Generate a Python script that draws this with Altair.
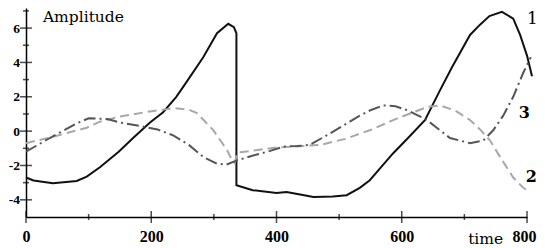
import altair as alt
import pandas as pd

# Series 1 (solid black)
s1_x = [0, 12, 43, 81, 97, 118, 148, 171, 198, 219, 240, 257, 283, 305, 323, 332, 336, 336, 362, 400, 416, 440, 459, 490, 512, 533, 549, 567, 586, 610, 637, 660, 680, 709, 725, 740, 760, 778, 789, 800, 808]
s1_y = [-2.7, -2.87, -3.04, -2.9, -2.65, -2.1, -1.2, -0.4, 0.5, 1.1, 2.0, 2.9, 4.3, 5.7, 6.25, 6.05, 5.7, -3.15, -3.44, -3.6, -3.54, -3.7, -3.83, -3.8, -3.73, -3.3, -2.86, -2.1, -1.3, -0.4, 0.64, 2.3, 3.7, 5.6, 6.2, 6.7, 6.95, 6.55, 5.6, 4.4, 3.2]

# Series 2 (light grey dashed)
s2_x = [0, 43, 97, 118, 150, 198, 238, 260, 273, 299, 321, 329, 333, 338, 370, 400, 430, 470, 510, 533, 549, 590, 640, 661, 685, 709, 725, 741, 757, 778, 794, 805]
s2_y = [-0.7, -0.33, 0.2, 0.55, 0.85, 1.15, 1.34, 1.25, 1.05, 0.06, -1.1, -1.7, -1.85, -1.25, -1.1, -0.95, -0.9, -0.8, -0.45, -0.15, 0.05, 0.7, 1.4, 1.5, 1.2, 0.65, 0.1, -0.55, -1.5, -2.7, -3.3, -3.55]

# Series 3 (dark grey dash-dot)
s3_x = [0, 38, 81, 100, 130, 150, 182, 210, 235, 260, 283, 305, 320, 337, 360, 390, 411, 433, 453, 480, 517, 533, 549, 570, 590, 610, 640, 677, 709, 730, 746, 762, 778, 794, 806]
s3_y = [-1.2, -0.4, 0.45, 0.75, 0.7, 0.5, 0.3, 0.1, -0.25, -0.8, -1.5, -1.9, -1.95, -1.7, -1.45, -1.15, -0.9, -0.87, -0.8, -0.25, 0.55, 0.9, 1.2, 1.5, 1.45, 1.2, 0.65, -0.4, -0.7, -0.55, 0.05, 0.9, 2.0, 3.4, 4.3]

x_major = [0, 200, 400, 600, 800]
x_minor = [100, 300, 500, 700]
y_major = [-4, -2, 0, 2, 4, 6]
y_minor = [-3, -1, 1, 3, 5, 7]

# annotation texts (positions in data units)
series_labels = ["1", "3", "2"]
series_label_x = [800, 787, 798]
series_label_y = [6.25, 0.76, -2.97]
series_label_weight = ["normal", "bold", "bold"]

FONT = "DejaVu Serif"
TICKFONT = "Liberation Serif"
LABEL_EXPR = "datum.value < 0 ? '-' + abs(datum.value) : '' + datum.value"

xs = alt.Scale(domain=[0, 800], nice=False, zero=False)
ys = alt.Scale(domain=[-5, 7.17], nice=False, zero=False)

def line_df(xv, yv):
    return pd.DataFrame({"x": xv, "y": yv, "i": list(range(len(xv)))})

x_axis = alt.Axis(values=x_major, title=None, grid=False, labelFont=TICKFONT,
                  labelFontWeight="bold", labelFontSize=16, labelColor="black",
                  tickSize=6, tickOpacity=0, labelPadding=5, labelExpr=LABEL_EXPR,
                  labelOffset={"condition": {"test": "datum.value == 800", "value": -3}, "value": 0},
                  domainColor="black", domainWidth=1.5, labelFlush=False)
y_axis = alt.Axis(values=y_major, title=None, grid=False, labelFont=TICKFONT,
                  labelFontWeight="bold", labelFontSize=13.5, labelColor="black",
                  tickSize=6, tickOpacity=0, labelPadding=0.5, labelExpr=LABEL_EXPR,
                  domainColor="black", domainWidth=1.5, labelFlush=False)

l1 = alt.Chart(line_df(s1_x, s1_y)).mark_line(color="#111111", strokeWidth=2).encode(
    x=alt.X("x:Q", scale=xs, axis=x_axis),
    y=alt.Y("y:Q", scale=ys, axis=y_axis),
    order="i:Q",
)
l2 = alt.Chart(line_df(s2_x, s2_y)).mark_line(color="#a8a8a8", strokeWidth=2, strokeDash=[9, 5]).encode(
    x=alt.X("x:Q", scale=xs), y=alt.Y("y:Q", scale=ys), order="i:Q"
)
l3 = alt.Chart(line_df(s3_x, s3_y)).mark_line(color="#555555", strokeWidth=2, strokeDash=[12, 4, 2, 4]).encode(
    x=alt.X("x:Q", scale=xs), y=alt.Y("y:Q", scale=ys), order="i:Q"
)

xt_major = alt.Chart(pd.DataFrame({"v": x_major})).mark_tick(
    orient="vertical", size=12, thickness=1.5, color="black").encode(
    x=alt.X("v:Q", scale=xs), y=alt.datum(-5, scale=ys))
xt_minor = alt.Chart(pd.DataFrame({"v": x_minor})).mark_tick(
    orient="vertical", size=6, thickness=1.5, color="black").encode(
    x=alt.X("v:Q", scale=xs), y=alt.datum(-5, scale=ys))
yt_major = alt.Chart(pd.DataFrame({"v": y_major})).mark_tick(
    orient="horizontal", size=12, thickness=1.5, color="black").encode(
    y=alt.Y("v:Q", scale=ys), x=alt.datum(0, scale=xs))
yt_minor = alt.Chart(pd.DataFrame({"v": y_minor})).mark_tick(
    orient="horizontal", size=6, thickness=1.5, color="black").encode(
    y=alt.Y("v:Q", scale=ys), x=alt.datum(0, scale=xs))

lab_df = pd.DataFrame({"x": series_label_x, "y": series_label_y,
                       "t": series_labels, "w": series_label_weight})
lab_normal = alt.Chart(lab_df[lab_df.w == "normal"]).mark_text(
    font=FONT, fontSize=17, align="left", baseline="alphabetic", color="black").encode(
    x=alt.X("x:Q", scale=xs), y=alt.Y("y:Q", scale=ys), text="t:N")
lab_bold = alt.Chart(lab_df[lab_df.w == "bold"]).mark_text(
    font=FONT, fontSize=16, fontWeight="bold", align="left", baseline="alphabetic", color="black").encode(
    x=alt.X("x:Q", scale=xs), y=alt.Y("y:Q", scale=ys), text="t:N")

titles_df = pd.DataFrame({"x": [27, 706], "y": [6.35, -6.6], "t": ["Amplitude", "time"]})
titles = alt.Chart(titles_df).mark_text(
    font=FONT, fontSize=15.5, align="left", baseline="alphabetic", color="black").encode(
    x=alt.X("x:Q", scale=xs), y=alt.Y("y:Q", scale=ys), text="t:N")

chart = alt.layer(l1, l2, l3, xt_major, xt_minor, yt_major, yt_minor,
                  lab_normal, lab_bold, titles).properties(
    width=501, height=209,
    autosize=alt.AutoSizeParams(type="none"),
    padding={"left": 18, "top": 0, "right": 10, "bottom": 31},
    background="white",
).configure_view(stroke=None)

chart.save("out.html", embed_options={"renderer": "svg", "actions": False})
